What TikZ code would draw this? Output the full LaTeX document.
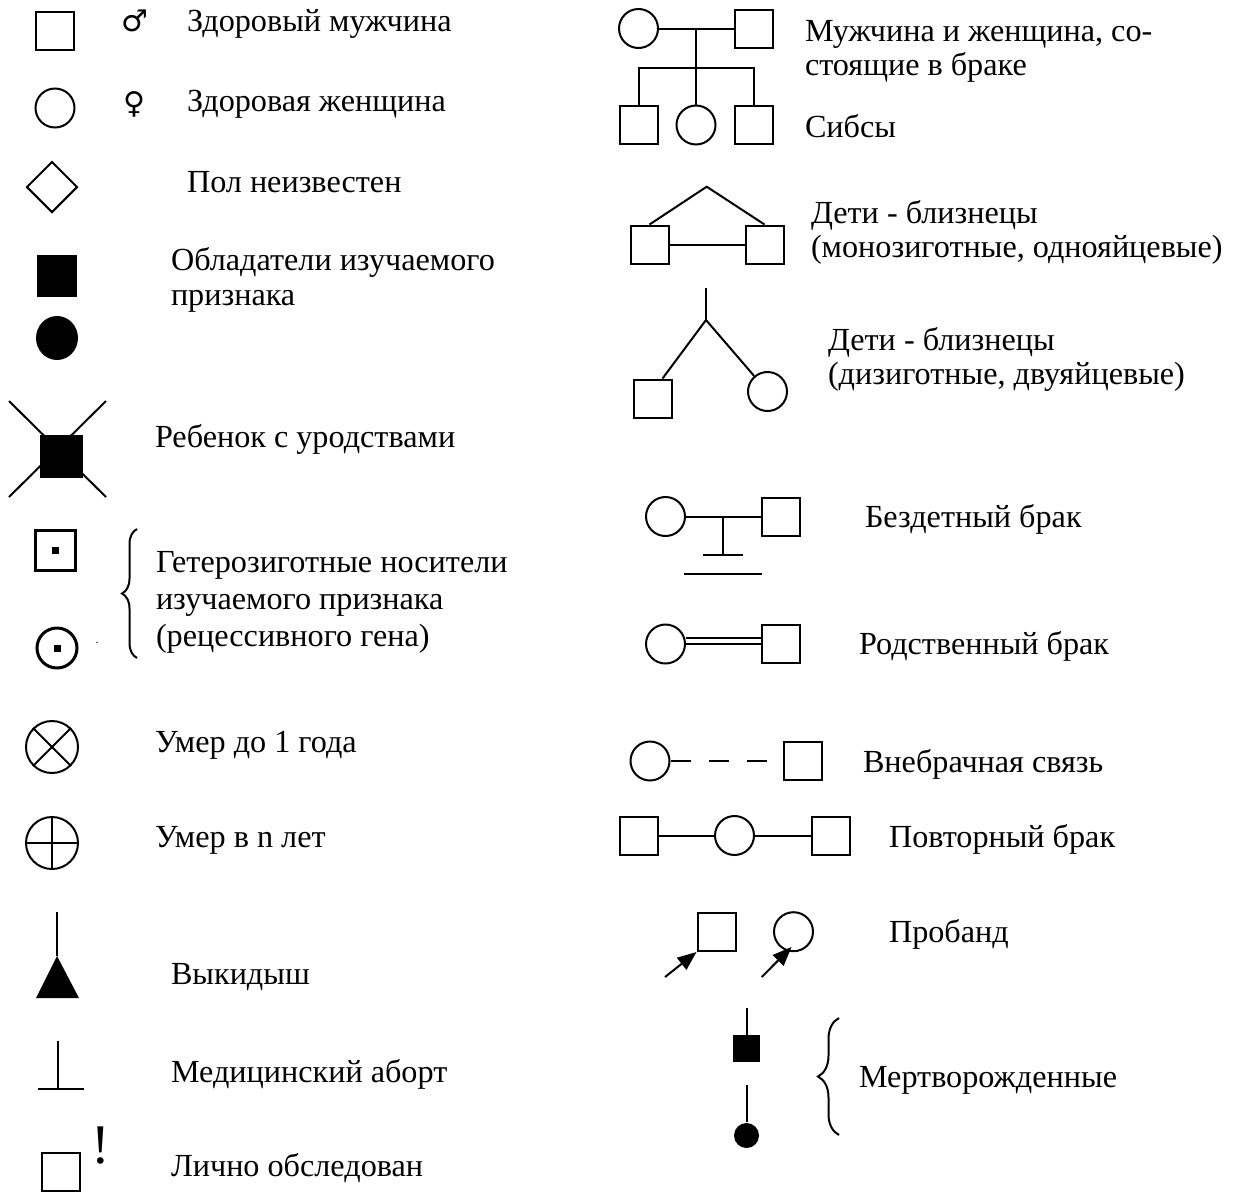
\documentclass[tikz,border=0pt]{standalone}
\usepackage{fontspec}
\setmainfont{Liberation Serif}
\newfontfamily\symfont{DejaVu Sans}
\usetikzlibrary{arrows.meta,decorations.pathreplacing,shapes.geometric,calc}

\begin{document}
\begin{tikzpicture}[x=1pt, y=-1pt, line width=2pt,
  sq/.style={draw, rectangle, minimum size=38pt, inner sep=0pt},
  ci/.style={draw, circle, minimum size=39pt, inner sep=0pt},
  lbl/.style={anchor=base west, inner sep=0pt, font=\fontsize{32.2}{34}\selectfont},
  sexsym/.style={inner sep=0pt, font=\symfont\fontsize{30}{30}\selectfont},
  dotmark/.style={fill, rectangle, minimum size=7pt, inner sep=0pt},
  curly/.style={decorate, line width=2pt},
  probarrow/.style={-{Triangle[length=19pt, width=15pt]}}]
\useasboundingbox (0,0) rectangle (1233,1192);

% ---------- left column ----------
\node[sq] (hm) at (55,31) {};
\node[sexsym] (msym) at (135,21) {♂};
\node[lbl] (thm) at (186,31) {Здоровый мужчина};

\node[ci] (hw) at (55,108) {};
\node[sexsym] (fsym) at (134,104) {♀};
\node[lbl] (thw) at (186,111) {Здоровая женщина};

\node[draw, diamond, minimum size=51pt, inner sep=0pt, aspect=1] (unk) at (52,187) {};
\node[lbl] (tunk) at (186,192) {Пол неизвестен};

\node[fill, rectangle, minimum width=40pt, minimum height=42pt, inner sep=0pt] (afm) at (56.5,276) {};
\node[ellipse, fill, minimum width=42pt, minimum height=44pt, inner sep=0pt] (afw) at (57,338) {};
\node[lbl] (taf1) at (170,270) {Обладатели изучаемого};
\node[lbl] (taf2) at (170,305) {признака};

\node[sq, fill, minimum size=41pt] (mal) at (61,456) {};
\coordinate (malA) at (9,401);  \coordinate (malB) at (106,497);
\coordinate (malC) at (106,401); \coordinate (malD) at (9,497);
\draw (malA) -- (malB);
\draw (malC) -- (malD);
\node[lbl] (tmal) at (154,447) {Ребенок с уродствами};

\node[sq, line width=3pt, minimum size=40pt] (hsq) at (55,550) {};
\node[dotmark] (hsqd) at (hsq.center) {};
\node[ci, line width=3pt, minimum size=40pt] (hci) at (57,648) {};
\node[dotmark] (hcid) at (hci.center) {};
\node[inner sep=0pt, font=\fontsize{12}{12}\selectfont] (hdot) at (97,643) {.};
\coordinate (hbrB) at (137,658); \coordinate (hbrT) at (137,529);
\draw[curly, decoration={brace, amplitude=15pt}] (hbrB) -- (hbrT);
\node[lbl] (thet1) at (155,572) {Гетерозиготные носители};
\node[lbl] (thet2) at (155,609) {изучаемого признака};
\node[lbl] (thet3) at (155,646) {(рецессивного гена)};

\node[ci, minimum size=52pt] (d1) at (52,747) {};
\draw (d1.north west) -- (d1.south east);
\draw (d1.north east) -- (d1.south west);
\node[lbl] (td1) at (154,752) {Умер до 1 года};

\node[ci, minimum size=52pt] (dn) at (52,843) {};
\draw (dn.north) -- (dn.south);
\draw (dn.west) -- (dn.east);
\node[lbl] (tdn) at (154,847) {Умер в n лет};

\coordinate (mcT) at (57,912);
\coordinate (mcA) at (57,956);
\coordinate (mcL) at (36,998);
\coordinate (mcR) at (79,998);
\draw (mcT) -- (mcA);
\fill (mcA) -- (mcR) -- (mcL) -- cycle;
\node[lbl] (tmc) at (170,984) {Выкидыш};

\coordinate (abT) at (58,1041); \coordinate (abB) at (58,1089);
\coordinate (abL) at (38,1089); \coordinate (abR) at (84,1089);
\draw (abT) -- (abB);
\draw (abL) -- (abR);
\node[lbl] (tab) at (170,1082) {Медицинский аборт};

\node[sq] (pe) at (61,1172) {};
\node[inner sep=0pt, font=\fontsize{56}{56}\selectfont] (pex) at (101,1146) {!};
\node[lbl] (tpe) at (170,1176) {Лично обследован};

% ---------- right column ----------
\node[ci] (mw) at (638.5,28.5) {};
\node[sq] (mm) at (753.5,28.5) {};
\draw (mw) -- (mm);
\coordinate (mmid) at (696,28.5);
\coordinate (sib) at (696,67.7);
\node[sq] (c1) at (638.5,125) {};
\node[ci] (c2) at (696,125) {};
\node[sq] (c3) at (753.5,125) {};
\draw (mmid) -- (c2.north);
\draw (c1.north) |- (sib) -| (c3.north);
\node[lbl] (tmar1) at (804,41) {Мужчина и женщина, со-};
\node[lbl] (tmar2) at (804,75) {стоящие в браке};
\node[lbl] (tsib) at (804,137) {Сибсы};

\coordinate (mzap) at (706.7,186.7);
\node[sq] (mz1) at (649.5,244.5) {};
\node[sq] (mz2) at (764.5,244.5) {};
\draw (mz1.north) -- (mzap) -- (mz2.north);
\draw (mz1.east) -- (mz2.west);
\node[lbl] (tmz1) at (810,223) {Дети - близнецы};
\node[lbl] (tmz2) at (810,257) {(монозиготные, однояйцевые)};

\coordinate (dztop) at (706,288);
\coordinate (dzfork) at (706,320);
\node[sq] (dz1) at (652.5,398.5) {};
\node[ci] (dz2) at (767.5,391.5) {};
\draw (dztop) -- (dzfork);
\draw (dzfork) -- ($(dz1.north)+(10,0)$);
\draw (dzfork) -- (dz2);
\node[lbl] (tdz1) at (827,350) {Дети - близнецы};
\node[lbl] (tdz2) at (827,384) {(дизиготные, двуяйцевые)};

\node[ci] (cl1) at (665.5,516.5) {};
\node[sq] (cl2) at (781,516.5) {};
\draw (cl1) -- (cl2);
\coordinate (clm) at (723.3,516.5);
\coordinate (clb) at (723.3,555);
\coordinate (clbL) at (703,555); \coordinate (clbR) at (743,555);
\coordinate (clgL) at (684,574); \coordinate (clgR) at (762,574);
\draw (clm) -- (clb);
\draw (clbL) -- (clbR);
\draw (clgL) -- (clgR);
\node[lbl] (tcl) at (864,527) {Бездетный брак};

\node[ci] (cs1) at (665.5,644) {};
\node[sq] (cs2) at (781,644) {};
\draw[double, double distance=4pt] ([yshift=3pt]cs1.east) -- ([yshift=3pt]cs2.west);
\node[lbl] (tcs) at (858,654) {Родственный брак};

\node[ci] (em1) at (650,761) {};
\node[sq] (em2) at (803,761) {};
\draw[dash pattern=on 20.7pt off 17.3pt] (em1) -- (em2);
\node[lbl] (tem) at (862,772) {Внебрачная связь};

\node[sq] (r1) at (638.5,835.5) {};
\node[ci] (r2) at (734.5,835.5) {};
\node[sq] (r3) at (830.5,835.5) {};
\draw (r1) -- (r2) -- (r3);
\node[lbl] (trp) at (888,847) {Повторный брак};

\node[sq] (p1) at (716.5,932) {};
\node[ci] (p2) at (793.5,931.7) {};
\coordinate (pa1) at (665,977);
\coordinate (pa2) at (761.7,977);
\coordinate (pt2) at (791.5,947);
\draw[probarrow] (pa1) -- (p1.south west);
\draw[probarrow] (pa2) -- (pt2);
\node[lbl] (tpr) at (888,942) {Пробанд};

\coordinate (sbt1) at (746.5,1008);
\coordinate (sbt2) at (746.5,1085);
\node[sq, fill, minimum size=25pt] (sb1) at (746.5,1048.5) {};
\node[circle, fill, minimum size=25pt, inner sep=0pt] (sb2) at (746.5,1135.5) {};
\draw (sbt1) -- (sb1.north);
\draw (sbt2) -- (sb2.north);
\coordinate (sbbB) at (839,1135); \coordinate (sbbT) at (839,1018);
\draw[curly, decoration={brace, amplitude=21pt}] (sbbB) -- (sbbT);
\node[lbl] (tsb) at (858,1087) {Мертворожденные};
\end{tikzpicture}
\end{document}
